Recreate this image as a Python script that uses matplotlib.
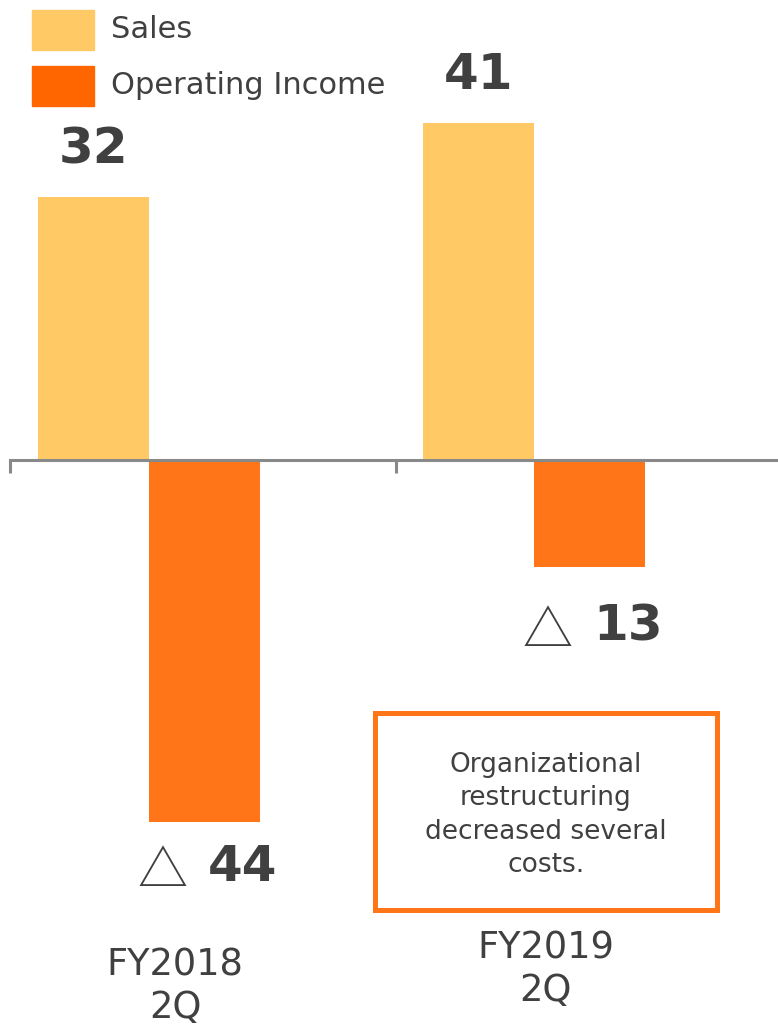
import matplotlib.pyplot as plt
from matplotlib.patches import Rectangle

# Half-year figures (2Q), negative operating income shown with a triangle
periods = ["FY2018\n2Q", "FY2019\n2Q"]
sales = [32, 41]
operating_income = [-44, -13]

sales_color = "#FFC966"
income_color = "#FF7518"
legend_income_color = "#FF6600"
text_color = "#404040"

fig = plt.figure(figsize=(7.78, 10.28), dpi=100)
ax = fig.add_axes([0, 0, 1, 1])

x = [0, 1]
width = 0.288
ax.bar([i - width / 2 for i in x], sales, width, color=sales_color)
ax.bar([i + width / 2 for i in x], operating_income, width, color=income_color)

ax.set_xlim(-0.387, 1.634)
ax.set_ylim(-69.06, 55.93)

# zero line with category boundary ticks
for side in ["top", "left", "right"]:
    ax.spines[side].set_visible(False)
ax.spines["bottom"].set_position(("data", 0))
ax.spines["bottom"].set_bounds(-0.361, 1.634)
ax.spines["bottom"].set_color("#898989")
ax.spines["bottom"].set_linewidth(2.2)
ax.set_xticks([-0.361, 0.641])
ax.tick_params(axis="x", direction="out", length=9.5, width=2.2,
               color="#898989", labelbottom=False)
ax.set_yticks([])

# value labels
for i, v in zip(x, sales):
    ax.text(i - width / 2, v + 5.8, str(v), ha="center", va="center",
            fontsize=36, fontweight="bold", color=text_color)

neg_offsets = [5.5, 7.3]
for i, v, off in zip(x, operating_income, neg_offsets):
    ax.text(i + width / 2 - 0.11, v - off - 0.7, "\u25B3", ha="center", va="center",
            fontsize=36, color=text_color,
            family=["Noto Sans CJK JP", "DejaVu Sans"])
    ax.text(i + width / 2 + 0.10, v - off, str(abs(v)), ha="center", va="center",
            fontsize=36, fontweight="bold", color=text_color)

# category labels below the chart
label_pos = [(175 / 778, 1 - 986 / 1028), (546 / 778, 1 - 969 / 1028)]
for lab, (lx, ly) in zip(periods, label_pos):
    fig.text(lx, ly, lab, ha="center", va="center", fontsize=26.5,
             color=text_color, linespacing=1.19)

# legend
W, H = 778, 1028
for (y0, color, name) in [(10, sales_color, "Sales"),
                          (66, legend_income_color, "Operating Income")]:
    fig.add_artist(Rectangle((32 / W, 1 - (y0 + 40) / H), 62 / W, 40 / H,
                             transform=fig.transFigure, color=color))
    fig.text(111 / W, 1 - (y0 + 20) / H, name, ha="left", va="center",
             fontsize=22, color=text_color)

# note box
fig.add_artist(Rectangle((375 / W, 1 - 910 / H), 342 / W, 197 / H,
                         transform=fig.transFigure, fill=False,
                         edgecolor=income_color, linewidth=3.6))
fig.text(546 / W, 1 - 815 / H,
         "Organizational\nrestructuring\ndecreased several\ncosts.",
         ha="center", va="center", fontsize=19, color=text_color,
         linespacing=1.37)

fig.savefig("out.png", dpi=100)
